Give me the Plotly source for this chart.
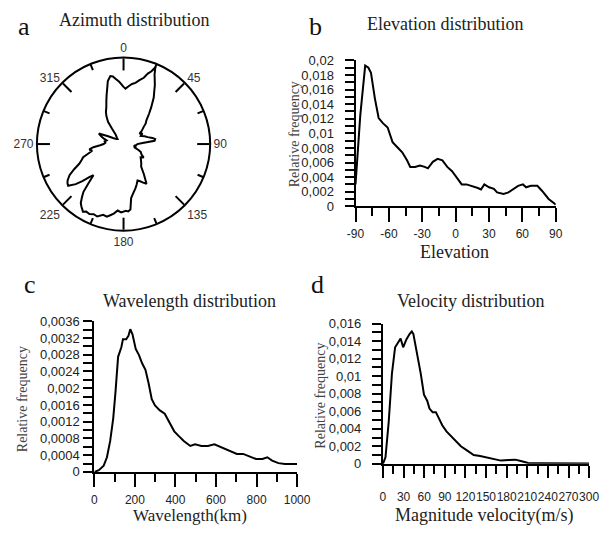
import numpy as np
import plotly.graph_objects as go

# ---------------- data ----------------
azimuth_deg = [0, 2, 5, 8, 11, 14, 17, 19, 21, 22.5, 24, 25, 28, 30, 33, 37, 40, 44, 47, 50,
               54, 57, 61, 65, 70, 74, 78, 81, 84, 87, 90, 94, 100, 104, 108, 112, 115, 120,
               124, 128, 132, 137, 142, 146, 150, 153, 156, 159, 162, 165, 169, 172, 174, 176,
               178, 182, 185, 188, 191, 193, 196, 200, 203, 206, 209, 211, 214, 216, 218, 220,
               222, 224, 226, 228, 230, 233, 235, 237, 240, 243, 246, 249, 252, 255, 258, 261,
               264, 267, 270, 274, 278, 282, 285, 289, 293, 297, 300, 305, 310, 315, 320, 323,
               325, 328, 331, 335, 338, 341, 344, 346, 349, 351, 353, 356, 358, 360]
azimuth_freq = [0.66, 0.64, 0.67, 0.70, 0.72, 0.76, 0.80, 0.86, 0.90, 0.96, 0.88, 0.85, 0.77, 0.71,
                0.64, 0.53, 0.46, 0.38, 0.35, 0.30, 0.26, 0.22, 0.25, 0.22, 0.26, 0.29, 0.34, 0.37,
                0.36, 0.22, 0.16, 0.15, 0.12, 0.15, 0.14, 0.19, 0.22, 0.24, 0.28, 0.25, 0.27, 0.30,
                0.33, 0.42, 0.53, 0.50, 0.47, 0.45, 0.49, 0.53, 0.58, 0.63, 0.76, 0.78, 0.77, 0.79,
                0.77, 0.81, 0.84, 0.86, 0.85, 0.89, 0.88, 0.90, 0.89, 0.91, 0.87, 0.84, 0.78, 0.72,
                0.60, 0.50, 0.55, 0.64, 0.72, 0.80, 0.79, 0.77, 0.72, 0.64, 0.56, 0.52, 0.49, 0.42,
                0.37, 0.40, 0.35, 0.27, 0.23, 0.21, 0.22, 0.20, 0.23, 0.27, 0.31, 0.20, 0.14, 0.10,
                0.09, 0.11, 0.14, 0.22, 0.31, 0.37, 0.42, 0.47, 0.53, 0.60, 0.68, 0.75, 0.80, 0.79,
                0.76, 0.72, 0.69, 0.66]
azimuth_tick_vals = [0, 45, 90, 135, 180, 225, 270, 315]
azimuth_tick_text = ["0", "45", "90", "135", "180", "225", "270", "315"]
azimuth_minor_vals = [22.5, 67.5, 112.5, 157.5, 202.5, 247.5, 292.5, 337.5]

elevation = [-90, -85.7, -81.3, -78.4, -76.1, -72.6, -69.2, -65.4, -61.1, -56.7, -52.4, -48.0,
             -43.7, -40.8, -36.5, -32.1, -27.8, -24.9, -20.5, -16.2, -11.9, -7.5, -3.2, 1.1, 5.5,
             9.8, 14.2, 20.0, 22.8, 25.8, 30.1, 34.4, 37.3, 43.1, 47.5, 51.8, 56.2, 60.5, 63.4,
             67.7, 73.5, 77.8, 83.6, 89.4, 90]
elevation_freq = [0.003, 0.0125, 0.0193, 0.0190, 0.0183, 0.0148, 0.0121, 0.0114, 0.0108, 0.0088,
                  0.0081, 0.0074, 0.0063, 0.0054, 0.0054, 0.0056, 0.0054, 0.0052, 0.0061, 0.0065,
                  0.0063, 0.0054, 0.0048, 0.0039, 0.0030, 0.0030, 0.0028, 0.0025, 0.0023, 0.0030,
                  0.0026, 0.0024, 0.0019, 0.0017, 0.0019, 0.0023, 0.0028, 0.0030, 0.0026, 0.0028,
                  0.0028, 0.0021, 0.0010, 0.0003, 0.0002]
elev_tick_vals = [-90, -60, -30, 0, 30, 60, 90]
elev_tick_text = ["-90", "-60", "-30", "0", "30", "60", "90"]
elev_y_vals = [0, 0.002, 0.004, 0.006, 0.008, 0.01, 0.012, 0.014, 0.016, 0.018, 0.02]
elev_y_text = ["0", "0,002", "0,004", "0,006", "0,008", "0,01", "0,012", "0,014", "0,016",
               "0,018", "0,02"]

wavelength = [0, 22, 46, 62, 78, 93, 104, 117, 133, 141, 157, 168, 177, 188, 204, 220, 236, 252,
              267, 283, 299, 323, 347, 370, 394, 418, 441, 473, 497, 528, 560, 592, 623, 655, 687,
              703, 734, 766, 797, 829, 853, 877, 908, 940, 972, 1000]
wavelength_freq = [0, 0.00004, 0.00015, 0.00035, 0.00074, 0.00128, 0.0019, 0.00275, 0.00298,
                   0.00317, 0.00317, 0.00325, 0.00341, 0.00329, 0.00294, 0.00279, 0.00259,
                   0.00244, 0.00213, 0.00174, 0.00159, 0.00147, 0.00139, 0.0012, 0.00097,
                   0.00085, 0.00074, 0.00062, 0.00066, 0.00062, 0.00062, 0.00066, 0.0006,
                   0.00054, 0.00048, 0.00043, 0.00043, 0.00037, 0.00031, 0.00031, 0.00035,
                   0.00027, 0.00021, 0.00019, 0.00019, 0.00019]
wl_tick_vals = [0, 200, 400, 600, 800, 1000]
wl_tick_text = ["0", "200", "400", "600", "800", "1000"]
wl_y_vals = [0, 0.0004, 0.0008, 0.0012, 0.0016, 0.002, 0.0024, 0.0028, 0.0032, 0.0036]
wl_y_text = ["0", "0,0004", "0,0008", "0,0012", "0,0016", "0,002", "0,0024", "0,0028",
             "0,0032", "0,0036"]

velocity = [0, 3.7, 8.4, 13.1, 17.7, 22.4, 25.7, 29.4, 34.1, 38.7, 42, 44.3, 49, 55, 59.7, 64.4,
            67.7, 72.3, 77, 81.6, 86.3, 92.4, 99.4, 106.4, 113.4, 122.7, 132, 141.4, 150.7, 160,
            171.7, 183.4, 192.7, 202, 211.3, 230, 248.7, 272, 300]
velocity_freq = [0, 0.00074, 0.0048, 0.0103, 0.0133, 0.0139, 0.0143, 0.0133, 0.0142, 0.0148,
                 0.0151, 0.0148, 0.0129, 0.0103, 0.0079, 0.0072, 0.0063, 0.0059, 0.0059, 0.0052,
                 0.0044, 0.0037, 0.0031, 0.0026, 0.0020, 0.0015, 0.0010, 0.0009, 0.00074,
                 0.00055, 0.00037, 0.00044, 0.00048, 0.0003, 0.00011, 0.00007, 0.00007,
                 0.00004, 0.00004]
vel_tick_vals = [0, 30, 60, 90, 120, 150, 180, 210, 240, 270, 300]
vel_tick_text = ["0", "30", "60", "90", "120", "150", "180", "210", "240", "270", "300"]
vel_y_vals = [0, 0.002, 0.004, 0.006, 0.008, 0.01, 0.012, 0.014, 0.016]
vel_y_text = ["0", "0,002", "0,004", "0,006", "0,008", "0,01", "0,012", "0,014", "0,016"]

# ---------------- figure ----------------
W, H = 614, 536
def px(x):
    return x / W
def py(y):
    return 1 - y / H

SERIF = "Liberation Serif"
SANS = "Liberation Sans"
LINE = dict(color="black", width=2)

fig = go.Figure()

fig.add_trace(go.Scatterpolar(theta=azimuth_deg, r=azimuth_freq, mode="lines",
                              line=LINE, subplot="polar", showlegend=False))
fig.add_trace(go.Scatterpolar(theta=[0], r=[0], mode="markers", marker=dict(size=0.1, opacity=0),
                              subplot="polar2", showlegend=False, hoverinfo="skip"))

fig.add_trace(go.Scatter(x=elevation, y=elevation_freq, mode="lines", line=LINE,
                         xaxis="x", yaxis="y", showlegend=False))
fig.add_trace(go.Scatter(x=wavelength, y=wavelength_freq, mode="lines", line=LINE,
                         xaxis="x2", yaxis="y2", showlegend=False))
fig.add_trace(go.Scatter(x=velocity, y=velocity_freq, mode="lines", line=LINE,
                         xaxis="x3", yaxis="y3", showlegend=False))

polar_dom = dict(x=[px(29), px(209)], y=[py(231), py(51)])
fig.update_layout(
    polar=dict(
        domain=polar_dom, bgcolor="white",
        radialaxis=dict(visible=False, range=[0, 1]),
        angularaxis=dict(rotation=90, direction="clockwise", showgrid=False,
                         showline=True, linecolor="black", linewidth=2,
                         ticks="inside", ticklen=12, tickwidth=2, tickcolor="black",
                         tickmode="array", tickvals=azimuth_tick_vals, ticktext=azimuth_tick_text,
                         tickfont=dict(family=SANS, size=12, color="#333")),
    ),
    polar2=dict(
        domain=polar_dom, bgcolor="rgba(0,0,0,0)",
        radialaxis=dict(visible=False, range=[0, 1]),
        angularaxis=dict(rotation=90, direction="clockwise", showgrid=False, showline=False,
                         ticks="inside", ticklen=6, tickwidth=2, tickcolor="black",
                         tickmode="array", tickvals=azimuth_minor_vals,
                         showticklabels=False),
    ),
)

def xaxis(dom, anchor, rng, vals, text, major_len, minor_step, standoff):
    return dict(domain=dom, anchor=anchor, range=rng, showline=True, linecolor="black",
                linewidth=2, ticks="outside", ticklen=major_len, tickwidth=2, tickcolor="black",
                tickmode="array", tickvals=vals, ticktext=text, showgrid=False, zeroline=False,
                tickangle=0,
                tickfont=dict(family=SANS, size=12, color="#222"), ticklabelstandoff=standoff,
                minor=dict(ticks="outside", ticklen=8, tickwidth=2, tickcolor="black",
                           tickmode="array",
                           tickvals=list(np.arange(rng[0], rng[1] + 1e-9, minor_step)),
                           showgrid=False))

def yaxis(dom, anchor, rng, vals, text, step, standoff):
    allv = list(np.round(np.arange(rng[0], rng[1] + step / 2, step), 6))
    labels = []
    for v in allv:
        match = [t for vv, t in zip(vals, text) if abs(vv - v) < step / 10]
        labels.append(match[0] if match else "")
    return dict(domain=dom, anchor=anchor, range=rng, showline=True, linecolor="black",
                linewidth=2, ticks="outside", ticklen=9, tickwidth=2, tickcolor="black",
                tickmode="array", tickvals=allv, ticktext=labels, showgrid=False,
                zeroline=False, tickfont=dict(family=SANS, size=13, color="#222"),
                ticklabelstandoff=standoff)

fig.update_layout(
    xaxis=xaxis([px(360), px(568)], "y", [-90, 90], elev_tick_vals, elev_tick_text, 14, 15, 1),
    yaxis=yaxis([py(205), py(55)], "x", [0, 0.02], elev_y_vals, elev_y_text, 0.001, 8),
    xaxis2=xaxis([px(88.7), px(299.3)], "y2", [0, 1000], wl_tick_vals, wl_tick_text, 13, 100, 3),
    yaxis2=yaxis([py(478.3), py(323.3)], "x2", [0, 0.0036], wl_y_vals, wl_y_text, 0.0002, 1),
    xaxis3=xaxis([px(388.5), px(602.7)], "y3", [0, 300], vel_tick_vals, vel_tick_text, 12, 15, 9),
    yaxis3=yaxis([py(470), py(325.7)], "x3", [0, 0.016], vel_y_vals, vel_y_text, 0.001, 8),
)

annotations = []
def ann(text, x, y, size, family=SERIF, color="#222", angle=0):
    annotations.append(dict(text=text, x=px(x), y=py(y), xref="paper", yref="paper",
                            showarrow=False, xanchor="center", yanchor="middle",
                            font=dict(family=family, size=size, color=color), textangle=angle))

ann("a", 16, 20, 26, color="#111")
ann("b", 318, 20, 26, color="#111")
ann("c", 22, 285, 26, color="#111")
ann("d", 320, 285, 26, color="#111")
ann("Azimuth distribution", 130, 13, 18)
ann("Elevation distribution", 453, 17, 18)
ann("Wavelength distribution", 188, 302, 18)
ann("Velocity distribution", 480, 302, 18)
ann("Elevation", 463, 252, 18)
ann("Wavelength(km)", 188, 523, 17)
ann("Magnitude velocity(m/s)", 493, 523, 18)
ann("Relative frequency", 296, 131, 14, color="#444", angle=-90)
ann("Relative frequency", 14, 403, 14, color="#444", angle=-90)
ann("Relative frequency", 324, 400, 14, color="#444", angle=-90)

fig.update_layout(width=W, height=H, margin=dict(l=0, r=0, t=0, b=0),
                  paper_bgcolor="white", plot_bgcolor="white", showlegend=False,
                  annotations=annotations)

fig.write_html("out.html")
